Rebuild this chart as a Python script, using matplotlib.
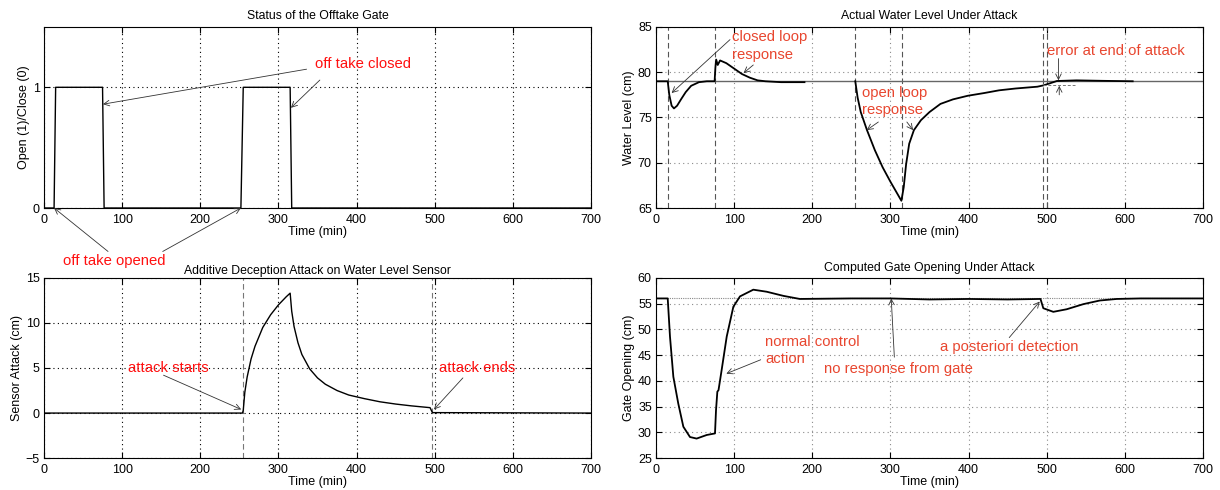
import numpy as np
import matplotlib
matplotlib.use("Agg")
import matplotlib.pyplot as plt

plt.rcParams['font.family'] = ['Liberation Sans', 'DejaVu Sans']

# ---------------- data ----------------
x_ticks = [0, 100, 200, 300, 400, 500, 600, 700]

# Offtake gate status
t_gate = [0, 13, 15, 75, 77, 252, 255, 315, 317, 700]
gate = [0, 0, 1, 1, 0, 0, 1, 1, 0, 0]

# Sensor attack
t_att = [0, 254, 255, 257, 260, 265, 270, 280, 290, 300, 310, 315, 317, 320,
         325, 330, 340, 350, 360, 375, 390, 410, 430, 450, 470, 494, 497, 700]
att = [0, 0, 0.3, 2.3, 4.0, 6.0, 7.4, 9.5, 10.9, 12.0, 12.9, 13.3, 11.3, 9.6,
       7.8, 6.5, 4.9, 3.9, 3.2, 2.5, 2.0, 1.6, 1.25, 1.0, 0.8, 0.6, 0.05, 0]

# Actual water level
t_wl = [0, 15, 17, 20, 23, 27, 32, 38, 45, 55, 65, 75, 76, 77, 79, 82, 90, 100,
        110, 120, 130, 140, 160, 190, np.nan,
        255, 258, 262, 270, 280, 290, 300, 310, 314, 317, 320, 324, 330, 339,
        350, 364, 380, 399, 420, 439, 460, 488, 496, 505, 513, 538, 570, 610]
wl = [79, 79, 77.5, 76.3, 76.0, 76.3, 77.0, 77.8, 78.5, 78.9, 79.0, 79.0, 80.5,
      81.4, 80.8, 81.3, 81.0, 80.4, 79.8, 79.4, 79.1, 79.0, 78.9, 78.9, np.nan,
      79.0, 77.2, 75.6, 73.6, 71.4, 69.5, 67.9, 66.4, 65.8, 67.3, 69.8, 72.1,
      73.6, 74.7, 75.6, 76.5, 77.0, 77.4, 77.7, 78.0, 78.2, 78.4, 78.55, 78.8,
      79.03, 79.1, 79.05, 79.0]
wl_setpoint = 79

# Computed gate opening
t_go = [0, 15, 17.9, 22.2, 28.5, 35, 43.5, 52, 65, 75.5, 76.8, 78.5, 80, 84,
        90.5, 99, 107.5, 124.5, 141.7, 163, 184, 250, 300, 350, 400, 450, 492,
        495.6, 508.4, 525.5, 547, 568, 589.6, 620, 700]
go = [56, 56, 48.6, 40.8, 35.6, 31.1, 29.1, 28.8, 29.5, 29.8, 34.3, 37.9, 38.2,
      42.1, 48.6, 54.4, 56.4, 57.7, 57.3, 56.5, 55.9, 56.0, 56.0, 55.8, 55.9,
      55.8, 55.9, 54.1, 53.4, 53.9, 54.9, 55.6, 55.9, 56.0, 56.0]
go_setpoint = 56

# event markers
tr_events = [15, 75, 255, 315, 495, 500]
bl_events = [255, 497]

# ---------------- figure ----------------
fig = plt.figure(figsize=(12.2, 4.9), dpi=100)
ax_tl = fig.add_axes([0.036, 0.5755, 0.4485, 0.3695])
ax_tr = fig.add_axes([0.5377, 0.5755, 0.4484, 0.3695])
ax_bl = fig.add_axes([0.036, 0.065, 0.4485, 0.368])
ax_br = fig.add_axes([0.5377, 0.065, 0.4484, 0.368])

RED_L = '#ff1010'
RED_R = '#e8462f'
FS = 9
TFS = 8.8
RFS = 10.7
LS = 1.3


def style(ax, grid_color):
    ax.set_xlim(0, 700)
    ax.set_xticks(x_ticks)
    ax.tick_params(direction='in', length=4, width=0.8, top=True, right=True,
                   labelsize=FS)
    ax.tick_params(axis='x', pad=4)
    ax.tick_params(axis='y', pad=3)
    ax.grid(True, linestyle=(0, (1, 3)), color=grid_color, linewidth=0.8)
    for s in ax.spines.values():
        s.set_linewidth(0.8)
    ax.set_xlabel('Time (min)', fontsize=FS, labelpad=0)


arrow = dict(arrowstyle='->', color='#333333', lw=0.6, shrinkA=0, shrinkB=0)

# --- top-left ---
ax = ax_tl
style(ax, 'black')
ax.plot(t_gate, gate, color='black', lw=1.0)
ax.set_ylim(0, 1.5)
ax.set_yticks([0, 1])
ax.set_ylabel('Open (1)/Close (0)', fontsize=FS, labelpad=2)
ax.set_title('Status of the Offtake Gate', fontsize=TFS, pad=6)
ax.text(347, 1.19, 'off take closed', color=RED_L, fontsize=RFS, va='center')
ax.annotate('', xy=(75.5, 0.86), xytext=(336, 1.15), arrowprops=arrow,
            annotation_clip=False)
ax.annotate('', xy=(316, 0.83), xytext=(353, 1.06), arrowprops=arrow,
            annotation_clip=False)
ax.text(24, -0.44, 'off take opened', color=RED_L, fontsize=RFS, va='center',
        clip_on=False)
ax.annotate('', xy=(13, 0.0), xytext=(82, -0.36), arrowprops=arrow,
            annotation_clip=False)
ax.annotate('', xy=(252, 0.0), xytext=(152, -0.36), arrowprops=arrow,
            annotation_clip=False)

# --- bottom-left ---
ax = ax_bl
style(ax, 'black')
for e in bl_events:
    ax.axvline(e, color='#777777', lw=0.8, linestyle=(0, (5, 3)))
ax.plot(t_att, att, color='black', lw=1.0)
ax.set_ylim(-5, 15)
ax.set_yticks([-5, 0, 5, 10, 15])
ax.set_ylabel('Sensor Attack (cm)', fontsize=FS, labelpad=2)
ax.set_title('Additive Deception Attack on Water Level Sensor', fontsize=TFS,
             pad=3)
ax.text(107.5, 5.0, 'attack starts', color=RED_L, fontsize=RFS, va='center')
ax.annotate('', xy=(252.4, 0.4), xytext=(153, 4.2), arrowprops=arrow)
ax.text(506, 5.0, 'attack ends', color=RED_L, fontsize=RFS, va='center')
ax.annotate('', xy=(499, 0.4), xytext=(536, 3.9), arrowprops=arrow)

# --- top-right ---
ax = ax_tr
style(ax, '#8a8a8a')
for e in tr_events:
    ax.axvline(e, color='#555555', lw=0.8, linestyle=(0, (5, 3)))
ax.axhline(wl_setpoint, color='#666666', lw=1.0)
ax.plot(t_wl, wl, color='black', lw=1.3)
ax.plot([495, 536], [78.6, 78.6], color='#777777', lw=0.7, linestyle=(0, (3, 2)))
ax.set_ylim(65, 85)
ax.set_yticks([65, 70, 75, 80, 85])
ax.set_ylabel('Water Level (cm)', fontsize=FS, labelpad=2)
ax.set_title('Actual Water Level Under Attack', fontsize=TFS, pad=6)
ax.text(97, 82.9, 'closed loop\nresponse', color=RED_R, fontsize=RFS,
        va='center', linespacing=LS)
ax.annotate('', xy=(20, 77.7), xytext=(94.7, 83.6), arrowprops=arrow)
ax.annotate('', xy=(112, 79.9), xytext=(124.5, 80.8), arrowprops=arrow)
ax.text(264, 76.8, 'open loop\nresponse', color=RED_R, fontsize=RFS,
        va='center', linespacing=LS)
ax.annotate('', xy=(269.6, 73.6), xytext=(284.5, 74.5), arrowprops=arrow)
ax.annotate('', xy=(329, 73.6), xytext=(321, 74.5), arrowprops=arrow)
ax.text(500, 82.3, 'error at end of attack', color=RED_R, fontsize=RFS,
        va='center')
ax.annotate('', xy=(515, 79.1), xytext=(515, 81.5), arrowprops=arrow)
ax.annotate('', xy=(516, 78.5), xytext=(516, 77.5), arrowprops=arrow)

# --- bottom-right ---
ax = ax_br
style(ax, '#8a8a8a')
ax.axhline(go_setpoint, color='#888888', lw=0.8, linestyle=(0, (1, 1)))
ax.plot(t_go, go, color='black', lw=1.3)
ax.set_ylim(25, 60)
ax.set_yticks([25, 30, 35, 40, 45, 50, 55, 60])
ax.set_ylabel('Gate Opening (cm)', fontsize=FS, labelpad=2)
ax.set_title('Computed Gate Opening Under Attack', fontsize=TFS, pad=5)
ax.text(140, 45.9, 'normal control\naction', color=RED_R, fontsize=RFS,
        va='center', linespacing=LS)
ax.annotate('', xy=(90, 41.4), xytext=(134, 44.1), arrowprops=arrow)
ax.text(215, 42.3, 'no response from gate', color=RED_R, fontsize=RFS,
        va='center')
ax.annotate('', xy=(301, 56), xytext=(305, 44.6), arrowprops=arrow)
ax.text(364, 46.6, 'a posteriori detection', color=RED_R, fontsize=RFS,
        va='center')
ax.annotate('', xy=(491, 55.4), xytext=(452, 48.4), arrowprops=arrow)

fig.savefig('out.png', dpi=100)
